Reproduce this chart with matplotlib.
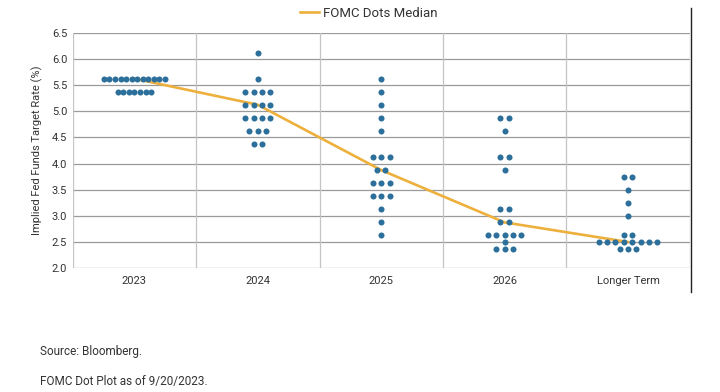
import matplotlib
matplotlib.use("Agg")
import matplotlib.pyplot as plt
from matplotlib.lines import Line2D
from collections import Counter

plt.rcParams['font.family'] = ['Roboto', 'DejaVu Sans']

categories = ["2023", "2024", "2025", "2026", "Longer Term"]
dots_2023 = [5.625] * 12 + [5.375] * 7
dots_2024 = [6.125, 5.625] + [5.375] * 4 + [5.125] * 4 + [4.875] * 4 + [4.625] * 3 + [4.375] * 2
dots_2025 = [5.625, 5.375, 5.125, 4.875, 4.625] + [4.125] * 3 + [3.875] * 2 + [3.625] * 3 + [3.375] * 3 + [3.125, 2.875, 2.625]
dots_2026 = [4.875] * 2 + [4.625] + [4.125] * 2 + [3.875] + [3.125] * 2 + [2.875] * 2 + [2.625] * 5 + [2.5] + [2.375] * 3
dots_longer = [3.75] * 2 + [3.5, 3.25, 3.0] + [2.625] * 2 + [2.5] * 8 + [2.375] * 3
median = [5.625, 5.125, 3.875, 2.875, 2.5]
yticks = [2.0, 2.5, 3.0, 3.5, 4.0, 4.5, 5.0, 5.5, 6.0, 6.5]

all_dots = [dots_2023, dots_2024, dots_2025, dots_2026, dots_longer]
spacing = [0.045, 0.068, 0.068, 0.068, 0.068]

DOT = "#2b6f9a"
LINE = "#eeb03c"

fig = plt.figure(figsize=(7.2, 3.92), dpi=100)
ax = fig.add_axes([0.101, 0.316, 0.857, 0.600])

xs, ys = [], []
for i, vals in enumerate(all_dots):
    for v, n in Counter(vals).items():
        for k in range(n):
            xs.append(i + (k - (n - 1) / 2) * spacing[i])
            ys.append(v)

ax.plot(range(len(categories)), median, color=LINE, lw=1.9, zorder=2, label="FOMC Dots Median")
ax.scatter(xs, ys, s=19, color=DOT, zorder=3, linewidths=0)

ax.set_xlim(-0.5, 4.5)
ax.set_ylim(2.0, 6.5)
ax.set_yticks(yticks)
ax.set_yticklabels([f"{t:.1f}" for t in yticks])
ax.set_xticks(range(len(categories)))
ax.set_xticklabels(categories)
for y in yticks:
    ax.axhline(y, color="#9a9a9a", lw=0.9, zorder=1)
for x in [-0.5, 0.5, 1.5, 2.5, 3.5, 4.5]:
    ax.axvline(x, color="#c4c4c4", lw=0.9, zorder=1)
for s in ax.spines.values():
    s.set_visible(False)
ax.tick_params(length=0, labelsize=8, colors="#333333", pad=6)
ax.tick_params(axis='y', pad=4)
ax.set_ylabel("Implied Fed Funds Target Rate (%)", fontsize=8, color="#333333", labelpad=6)

ax.legend(loc="lower center", bbox_to_anchor=(0.48, 1.005), frameon=False, fontsize=9.5,
          handlelength=1.4, handletextpad=0.3, labelcolor="#333333")

fig.add_artist(Line2D([0.96, 0.96], [1 - 8 / 392, 1 - 292 / 392], color="#222222", lw=1.0))

fig.text(40 / 720, 1 - 352 / 392, "Source: Bloomberg.", fontsize=8.5, color="#333333", va="center")
fig.text(40 / 720, 1 - 382 / 392, "FOMC Dot Plot as of 9/20/2023.", fontsize=8.5, color="#333333", va="center")

fig.savefig("out.png", dpi=100)
